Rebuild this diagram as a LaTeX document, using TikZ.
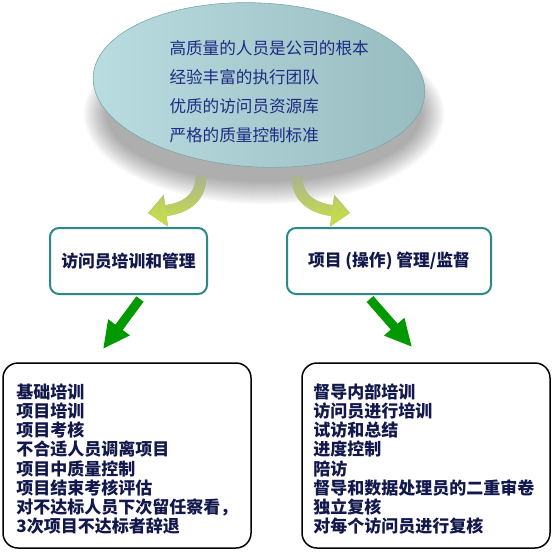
\documentclass[tikz,border=0pt]{standalone}
\usepackage{fontspec}
\newfontfamily\cjk{Noto Sans CJK SC}
\usetikzlibrary{arrows.meta,fadings}

\definecolor{ovalLight}{HTML}{C4E7EB}
\definecolor{ovalDark}{HTML}{97BCBF}
\definecolor{ovalEdge}{HTML}{7EA6A9}
\definecolor{limeArrow}{HTML}{C3DC4E}
\definecolor{tailGray}{HTML}{A9AD9C}
\definecolor{greenArrow}{HTML}{009A00}
\definecolor{tealEdge}{HTML}{2B8A87}
\definecolor{blueText}{HTML}{1F2A84}
\definecolor{navyText}{HTML}{12184C}

\tikzset{
  headbox/.style={draw=tealEdge, line width=2pt, rounded corners=9pt,
    fill=white, text=navyText, minimum height=66pt,
    font={\cjk\bfseries\fontsize{16.8}{19}\selectfont}},
  listbox/.style={draw=black, line width=1.5pt, rounded corners=15pt,
    fill=white, minimum width=248pt, minimum height=185pt},
  listtext/.style={anchor=west, align=left, text=navyText, inner sep=0pt,
    font={\cjk\bfseries\fontsize{17}{19.2}\selectfont}},
  bentarrow/.style={line width=11pt, tailGray,
    -{Triangle[length=18pt,width=31pt]},
    postaction={draw=limeArrow, path fading=north}},
  straightarrow/.style={line width=9pt, greenArrow,
    -{Triangle[length=27pt,width=25pt]}},
}

\begin{document}
\begin{tikzpicture}[x=1pt, y=-1pt]
\useasboundingbox (0,0) rectangle (553,551);

% ── soft shadow under the oval ───────────────────────────────
\foreach \k in {0,...,11}
  \fill[black, opacity=0.032] (264,114)
    ellipse [x radius={180-2*\k}, y radius={90-2*\k}];

% ── oval with the four claims ────────────────────────────────
\shade[rotate around={-3:(259,85)}, left color=ovalLight!75!ovalDark,
  middle color=ovalLight, right color=ovalDark, draw=ovalEdge,
  line width=0.6pt]
  (259,85) ellipse [x radius=166, y radius=82];
\node[anchor=west, align=left, text=blueText,
  font={\cjk\fontsize{16.6}{29}\selectfont}] (claims) at (166,92)
  {高质量的人员是公司的根本\\经验丰富的执行团队\\优质的访问员资源库\\严格的质量控制标准};

% ── bent arrows down to the two headings ─────────────────────
\coordinate (lefttail) at (201,176);
\coordinate (lefttip)  at (148,213);
\draw[bentarrow] (lefttail) .. controls (201,198) and (186,208) .. (lefttip);
\coordinate (righttail) at (297,176);
\coordinate (righttip)  at (350,213);
\draw[bentarrow] (righttail) .. controls (297,198) and (312,208) .. (righttip);

% ── headings ─────────────────────────────────────────────────
\node[headbox, minimum width=157pt] (training) at (128.5,261)
  {访问员培训和管理};
\node[headbox, minimum width=204pt] (project) at (389,261)
  {项目 (操作) 管理/监督};

% ── straight arrows down to the lists ────────────────────────
\coordinate (leftstart) at (140,299);
\coordinate (leftend)   at (103,349);
\draw[straightarrow] (leftstart) -- (leftend);
\coordinate (rightstart) at (370,299);
\coordinate (rightend)   at (412,347);
\draw[straightarrow] (rightstart) -- (rightend);

% ── lists ────────────────────────────────────────────────────
\node[listbox] (traininglist) at (127,455.5) {};
\node[listtext] (trainingitems) at ([xshift=14pt,yshift=-3.5pt]traininglist.west)
  {基础培训\\项目培训\\项目考核\\不合适人员调离项目\\项目中质量控制\\项目结束考核评估\\对不达标人员下次留任察看，\\3次项目不达标者辞退};
\node[listbox] (projectlist) at (426,455.5) {};
\node[listtext] (projectitems) at ([xshift=12pt,yshift=-3.5pt]projectlist.west)
  {督导内部培训\\访问员进行培训\\试访和总结\\进度控制\\陪访\\督导和数据处理员的二重审卷\\独立复核\\对每个访问员进行复核};

\end{tikzpicture}
\end{document}
